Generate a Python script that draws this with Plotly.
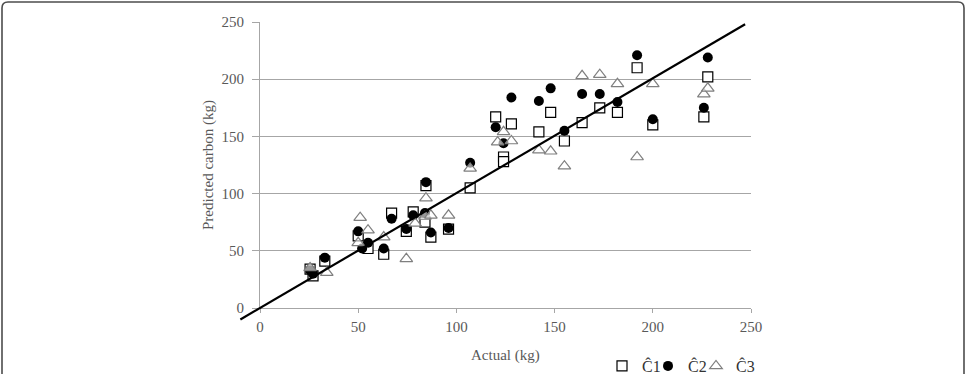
import plotly.graph_objects as go

# ---------------- data ----------------
c1_actual = [25.5, 27, 33, 50, 55, 63, 67, 74.5, 78, 84, 84.5, 87, 96, 107,
             120, 124, 124, 128, 142, 148, 155, 164, 173, 182, 192, 200, 226, 228]
c1_pred = [34, 28, 41, 63, 52, 47, 83, 67, 84, 75, 107, 62, 69, 105,
           167, 132, 128, 161, 154, 171, 146, 162, 175, 171, 210, 160, 167, 202]

c2_actual = [25.5, 27, 33, 50, 52, 55, 63, 67, 74.5, 78, 84, 84.5, 87, 96, 107,
             120, 124, 128, 142, 148, 155, 164, 173, 182, 192, 200, 226, 228]
c2_pred = [33, 30, 44, 67, 52, 57, 52, 78, 69, 81, 83, 110, 66, 70, 127,
           158, 144, 184, 181, 192, 155, 187, 187, 180, 221, 165, 175, 219]

c3_actual = [25.5, 34, 50, 51, 55, 63, 74.5, 79, 84, 84.5, 87, 96, 107,
             121, 124, 128, 142, 148, 155, 164, 173, 182, 192, 200, 226, 228]
c3_pred = [35, 31, 57, 79, 68, 62, 43, 74, 80, 96, 81, 81, 122,
           145, 154, 146, 138, 137, 124, 203, 204, 196, 132, 196, 187, 192]

line_x = [-10, 247]
line_y = [-10, 248]

tick_vals = [0, 50, 100, 150, 200, 250]
series_names = ["Ĉ1", "Ĉ2", "Ĉ3"]
x_title = "Actual (kg)"
y_title = "Predicted carbon (kg)"

# ---------------- layout geometry ----------------
W, H = 967, 374
L, R, T, B = 236, 216, 22, 52
pw = W - L - R
ph = H - T - B
x0_off = 24          # px from plot-area left edge to x = 0
y0_off = 14          # px from plot-area bottom edge to y = 0
ux = (pw - x0_off) / 250.0
uy = (ph - y0_off) / 250.0

FONT = "Liberation Serif, Times New Roman, serif"
GRAY_TXT = "#595959"
GRID = "#A6A6A6"


def px_x(p):
    return (p - L) / pw


def px_y(p):
    return (H - B - p) / ph


fig = go.Figure()

fig.add_trace(go.Scatter(
    x=c1_actual, y=c1_pred, mode="markers", name=series_names[0],
    legend="legend",
    marker=dict(symbol="square", size=10, color="white",
                line=dict(color="black", width=1.2)),
    xaxis="x", yaxis="y"))
fig.add_trace(go.Scatter(
    x=c2_actual, y=c2_pred, mode="markers", name=series_names[1],
    legend="legend2",
    marker=dict(symbol="circle", size=10, color="black",
                line=dict(color="black", width=0)),
    xaxis="x", yaxis="y"))
fig.add_trace(go.Scatter(
    x=c3_actual, y=c3_pred, mode="markers", name=series_names[2],
    legend="legend3",
    marker=dict(symbol="triangle-up", size=11, color="rgba(255,255,255,0.6)",
                line=dict(color="#7F7F7F", width=1.2)),
    xaxis="x", yaxis="y"))

fig.add_trace(go.Scatter(
    x=line_x, y=line_y, mode="lines", showlegend=False,
    line=dict(color="black", width=2.2),
    xaxis="x2", yaxis="y2"))


def leg(xpx):
    return dict(orientation="h", xref="container", yref="container",
                x=xpx / W, xanchor="left", y=(H - 366) / H, yanchor="middle",
                font=dict(family=FONT, size=16, color="#333333"),
                bgcolor="rgba(0,0,0,0)", borderwidth=0)


fig.update_layout(
    width=W, height=H,
    margin=dict(l=L, r=R, t=T, b=B, pad=0, autoexpand=False),
    paper_bgcolor="white", plot_bgcolor="rgba(0,0,0,0)",
    font=dict(family=FONT, size=15, color=GRAY_TXT),
    xaxis=dict(domain=[x0_off / pw, 1], range=[0, 250], anchor="y",
               automargin=False,
               tickvals=tick_vals, showgrid=False, zeroline=False,
               showline=True, linecolor=GRID, linewidth=1,
               ticks="outside", ticklen=4, tickcolor=GRID,
               ticklabelstandoff=1,
               tickfont=dict(family=FONT, size=15, color=GRAY_TXT)),
    yaxis=dict(domain=[y0_off / ph, 1], range=[0, 250], anchor="x",
               automargin=False,
               tickvals=tick_vals, showgrid=True, gridcolor=GRID, gridwidth=1,
               zeroline=False, showline=True, linecolor=GRID, linewidth=1,
               ticks="outside", ticklen=7, tickcolor=GRID,
               ticklabelstandoff=5,
               tickfont=dict(family=FONT, size=15, color=GRAY_TXT)),
    xaxis2=dict(domain=[0, 1], range=[-x0_off / ux, 250], anchor="y2",
                visible=False, fixedrange=True, automargin=False),
    yaxis2=dict(domain=[0, 1], range=[-y0_off / uy, 250], anchor="x2",
                visible=False, fixedrange=True, automargin=False),
    showlegend=True,
    legend=leg(602),
    legend2=leg(648),
    legend3=leg(696),
)

# axis titles
fig.add_annotation(text=x_title, xref="paper", yref="paper",
                   x=px_x(505), y=px_y(355), xanchor="center", yanchor="middle",
                   showarrow=False,
                   font=dict(family=FONT, size=15, color=GRAY_TXT))
fig.add_annotation(text=y_title, xref="paper", yref="paper",
                   x=px_x(208), y=px_y(165), xanchor="center", yanchor="middle",
                   textangle=-90, showarrow=False,
                   font=dict(family=FONT, size=15, color=GRAY_TXT))

# rounded frame around the figure (open at the bottom)
rx, ry = 6 / pw, 6 / ph
xl, xr, yt, yb = px_x(2), px_x(964), px_y(2), px_y(390)
path = (f"M {xl},{yb} L {xl},{yt - ry} Q {xl},{yt} {xl + rx},{yt} "
        f"L {xr - rx},{yt} Q {xr},{yt} {xr},{yt - ry} L {xr},{yb}")
fig.add_shape(type="path", path=path, xref="paper", yref="paper",
              line=dict(color="#4D4D4D", width=1.6), layer="above")

fig.write_html("out.html")
